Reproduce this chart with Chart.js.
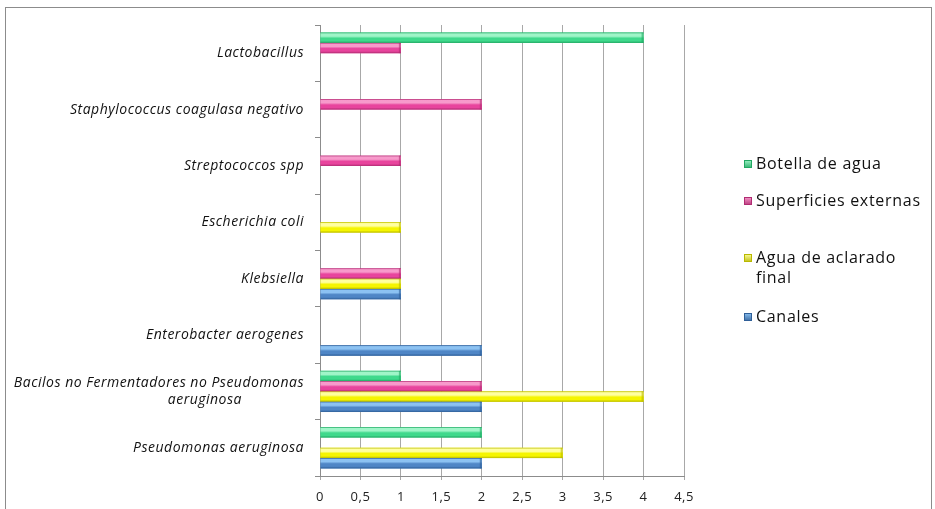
<!DOCTYPE html>
<html>
<head>
<meta charset="utf-8">
<script src="https://cdn.jsdelivr.net/npm/chart.js@4.4.1/dist/chart.umd.min.js"></script>
<style>
  html, body { margin: 0; padding: 0; background: #fff; }
  #wrap { width: 935px; height: 509px; }
</style>
</head>
<body>
<div id="wrap"><canvas id="grafico" width="935" height="509"></canvas></div>
<script>
// datos
const categorias = [
  "Lactobacillus",
  "Staphylococcus coagulasa negativo",
  "Streptococcos spp",
  "Escherichia coli",
  "Klebsiella",
  "Enterobacter aerogenes",
  ["Bacilos no Fermentadores no Pseudomonas", "aeruginosa               "],
  "Pseudomonas aeruginosa",
];
const series = ["Botella de agua", "Superficies externas", "Agua de aclarado final", "Canales"];
const botella = [4, 0, 0, 0, 0, 0, 1, 2];
const superficies = [1, 2, 1, 0, 1, 0, 2, 0];
const agua = [0, 0, 0, 1, 1, 0, 4, 3];
const canales = [0, 0, 0, 0, 1, 2, 2, 2];
const ticksX = [0, 0.5, 1, 1.5, 2, 2.5, 3, 3.5, 4, 4.5];

// colores: [claro, base, oscuro]
const colores = [
  ["#9ff5c8", "#3fd98c", "#22a863"],
  ["#f79acb", "#e8449d", "#b02c72"],
  ["#ffffa0", "#f5f500", "#b8b800"],
  ["#8cc2f2", "#4f86c6", "#2f5f98"],
];
const legendaY = [164, 201, 258, 317];

/* sombreado 3D de cada barra, usando la geometria de la libreria */
const sombreado = {
  id: "sombreado",
  afterDatasetsDraw(chart) {
    const ctx = chart.ctx;
    chart.data.datasets.forEach((ds, i) => {
      const meta = chart.getDatasetMeta(i);
      const c = colores[i];
      meta.data.forEach((bar, j) => {
        if (!ds.data[j]) return;
        const p = bar.getProps(["x", "y", "base", "height"], true);
        const top = p.y - p.height / 2;
        const x0 = Math.min(p.base, p.x);
        const w = Math.abs(p.x - p.base);
        const g = ctx.createLinearGradient(0, top, 0, top + p.height);
        g.addColorStop(0, c[2]);
        g.addColorStop(0.12, c[0]);
        g.addColorStop(0.35, c[0]);
        g.addColorStop(0.55, c[1]);
        g.addColorStop(0.8, c[1]);
        g.addColorStop(1, c[2]);
        ctx.save();
        ctx.fillStyle = g;
        ctx.fillRect(x0, top, w, p.height);
        ctx.fillStyle = c[2];
        ctx.globalAlpha = 0.6;
        ctx.fillRect(x0 + w - 2, top, 2, p.height);
        ctx.restore();
      });
    });
  },
};

/* marco y leyenda */
const marco = {
  id: "marco",
  beforeDraw(chart) {
    const ctx = chart.ctx;
    ctx.save();
    ctx.fillStyle = "#fff";
    ctx.fillRect(0, 0, chart.width, chart.height);
    ctx.strokeStyle = "#8c8c8c";
    ctx.lineWidth = 1;
    ctx.strokeRect(5.5, 7.5, 926, 520);
    ctx.restore();
    // texto algo mas espaciado, como el Calibri del original
    ctx.letterSpacing = "0.5px";
  },
  afterDraw(chart) {
    const ctx = chart.ctx;
    ctx.save();
    ctx.font = "16px 'Open Sans'";
    ctx.letterSpacing = "0.7px";
    ctx.textBaseline = "middle";
    const maxAncho = ctx.measureText("Superficies externas").width + 2;
    series.forEach((nombre, i) => {
      const lineas = [];
      let actual = "";
      nombre.split(" ").forEach((pal) => {
        const prueba = actual ? actual + " " + pal : pal;
        if (ctx.measureText(prueba).width > maxAncho && actual) {
          lineas.push(actual);
          actual = pal;
        } else actual = prueba;
      });
      lineas.push(actual);
      const y = legendaY[i];
      const g = ctx.createLinearGradient(0, y - 4, 0, y + 5);
      g.addColorStop(0, colores[i][0]);
      g.addColorStop(1, colores[i][2]);
      ctx.fillStyle = g;
      ctx.fillRect(744, y - 4, 8, 8);
      ctx.strokeStyle = colores[i][2];
      ctx.strokeRect(744.5, y - 3.5, 7, 7);
      ctx.fillStyle = "#111";
      lineas.forEach((l, k) => ctx.fillText(l, 756, y + k * 20));
    });
    ctx.restore();
  },
};

new Chart(document.getElementById("grafico"), {
  type: "bar",
  data: {
    labels: categorias,
    datasets: [botella, superficies, agua, canales].map((d, i) => ({
      label: series[i],
      data: d,
      backgroundColor: colores[i][1],
      borderWidth: 0,
      categoryPercentage: 0.73,
      barPercentage: 1.0,
    })),
  },
  plugins: [marco, sombreado],
  options: {
    indexAxis: "y",
    responsive: false,
    animation: false,
    layout: { padding: { left: 0, top: 25, right: 251, bottom: 0 } },
    plugins: {
      legend: { display: false },
      tooltip: { enabled: false },
    },
    scales: {
      x: {
        min: 0,
        max: 4.5,
        afterBuildTicks: (s) => {
          s.ticks = ticksX.map((v) => ({ value: v }));
        },
        afterFit: (s) => {
          s.height = 33;
        },
        ticks: {
          padding: 9,
          color: "#222",
          font: { family: "'Open Sans'", size: 13 },
          callback: (v) => String(v).replace(".", ","),
        },
        grid: { color: "#a8a8a8", drawTicks: true, tickLength: 4 },
        border: { display: true, color: "#8c8c8c" },
      },
      y: {
        afterFit: (s) => {
          s.width = 320;
        },
        ticks: {
          padding: 11,
          color: "#111",
          font: { family: "'Open Sans'", size: 14, style: "italic" },
        },
        grid: {
          drawOnChartArea: false,
          drawTicks: true,
          tickLength: 5,
          color: "#8c8c8c",
        },
        border: { display: true, color: "#8c8c8c" },
      },
    },
  },
});
</script>
</body>
</html>
